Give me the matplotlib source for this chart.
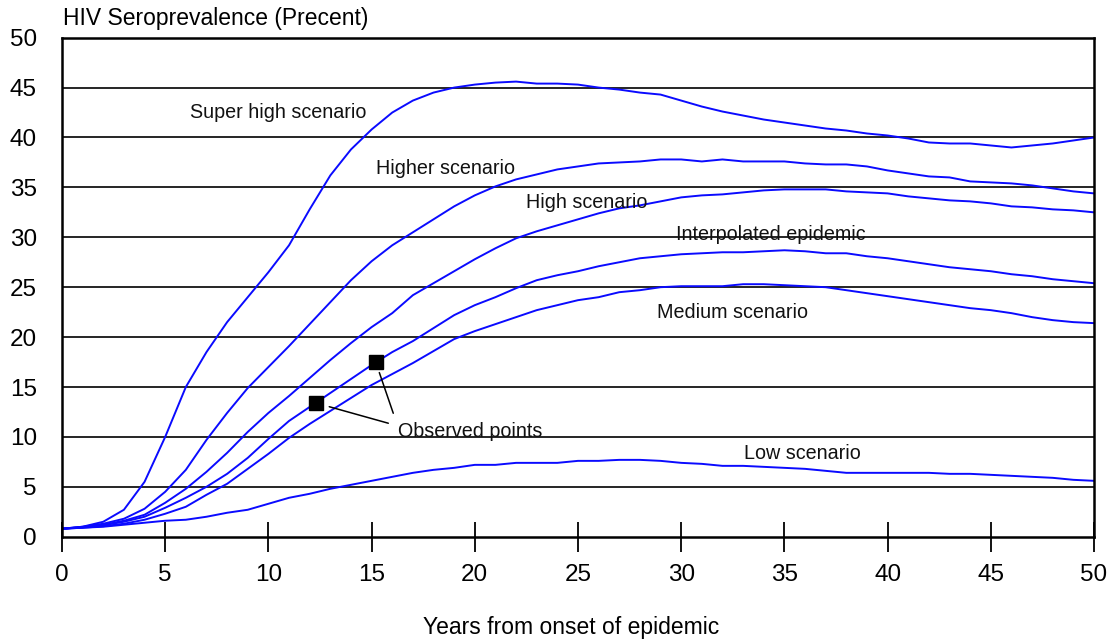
import numpy as np
import matplotlib
matplotlib.use('Agg')
import matplotlib.pyplot as plt

plt.rcParams['font.family'] = ['Liberation Sans', 'DejaVu Sans']

# years from onset, one value per year
years = np.arange(0, 51)

super_high = [0.8, 1.0, 1.5, 2.7, 5.5, 10.0, 15.0, 18.5, 21.5, 24.0, 26.5,
              29.2, 32.8, 36.2, 38.8, 40.8, 42.5, 43.7, 44.5, 45.0, 45.3,
              45.5, 45.6, 45.4, 45.4, 45.3, 45.0, 44.8, 44.5, 44.3, 43.7,
              43.1, 42.6, 42.2, 41.8, 41.5, 41.2, 40.9, 40.7, 40.4, 40.2,
              39.9, 39.5, 39.4, 39.4, 39.2, 39.0, 39.2, 39.4, 39.7, 40.0]
higher = [0.8, 1.0, 1.3, 1.8, 2.8, 4.5, 6.7, 9.7, 12.4, 14.9, 17.0,
          19.1, 21.3, 23.5, 25.7, 27.6, 29.2, 30.5, 31.8, 33.1, 34.2,
          35.1, 35.8, 36.3, 36.8, 37.1, 37.4, 37.5, 37.6, 37.8, 37.8,
          37.6, 37.8, 37.6, 37.6, 37.6, 37.4, 37.3, 37.3, 37.1, 36.7,
          36.4, 36.1, 36.0, 35.6, 35.5, 35.4, 35.2, 34.9, 34.6, 34.4]
high = [0.8, 0.95, 1.2, 1.6, 2.2, 3.4, 4.8, 6.5, 8.4, 10.5, 12.4,
        14.1, 15.9, 17.7, 19.4, 21.0, 22.4, 24.2, 25.4, 26.6, 27.8,
        28.9, 29.9, 30.6, 31.2, 31.8, 32.4, 32.9, 33.2, 33.6, 34.0,
        34.2, 34.3, 34.5, 34.7, 34.8, 34.8, 34.8, 34.6, 34.5, 34.4,
        34.1, 33.9, 33.7, 33.6, 33.4, 33.1, 33.0, 32.8, 32.7, 32.5]
interpolated = [0.8, 0.95, 1.15, 1.5, 2.0, 2.9, 3.9, 5.0, 6.3, 7.9, 9.8,
                11.6, 13.0, 14.4, 15.8, 17.2, 18.5, 19.6, 20.9, 22.2, 23.2,
                24.0, 24.9, 25.7, 26.2, 26.6, 27.1, 27.5, 27.9, 28.1, 28.3,
                28.4, 28.5, 28.5, 28.6, 28.7, 28.6, 28.4, 28.4, 28.1, 27.9,
                27.6, 27.3, 27.0, 26.8, 26.6, 26.3, 26.1, 25.8, 25.6, 25.4]
medium = [0.8, 0.9, 1.05, 1.3, 1.7, 2.3, 3.0, 4.2, 5.3, 6.8, 8.3,
          9.9, 11.3, 12.6, 13.9, 15.2, 16.3, 17.4, 18.6, 19.8, 20.6,
          21.3, 22.0, 22.7, 23.2, 23.7, 24.0, 24.5, 24.7, 25.0, 25.1,
          25.1, 25.1, 25.3, 25.3, 25.2, 25.1, 25.0, 24.7, 24.4, 24.1,
          23.8, 23.5, 23.2, 22.9, 22.7, 22.4, 22.0, 21.7, 21.5, 21.4]
low = [0.8, 0.9, 1.0, 1.2, 1.4, 1.6, 1.7, 2.0, 2.4, 2.7, 3.3,
       3.9, 4.3, 4.8, 5.2, 5.6, 6.0, 6.4, 6.7, 6.9, 7.2,
       7.2, 7.4, 7.4, 7.4, 7.6, 7.6, 7.7, 7.7, 7.6, 7.4,
       7.3, 7.1, 7.1, 7.0, 6.9, 6.8, 6.6, 6.4, 6.4, 6.4,
       6.4, 6.4, 6.3, 6.3, 6.2, 6.1, 6.0, 5.9, 5.7, 5.6]

obs_years = [12.3, 15.2]
obs_values = [13.4, 17.5]

# label text and where it sits (year, value at baseline)
labels = ['Super high scenario', 'Higher scenario', 'High scenario',
          'Interpolated epidemic', 'Medium scenario', 'Low scenario',
          'Observed points']
label_x = [6.2, 15.2, 22.5, 29.75, 28.85, 33.05, 16.3]
label_y = [42.0, 36.35, 32.9, 29.75, 21.9, 7.75, 9.95]
# far ends of the leader lines for the observed points
leader_x = [15.81, 16.05]
leader_y = [11.37, 12.37]

x_ticks = np.arange(0, 51, 5)
y_ticks = np.arange(0, 51, 5)


def main():
    fig = plt.figure(figsize=(11.11, 6.42), dpi=100)
    ax = fig.add_axes([0.0558, 0.164, 0.9289, 0.7773])

    for yv in y_ticks[1:-1]:
        ax.axhline(yv, color='black', lw=1.2, zorder=1)

    for series in [super_high, higher, high, interpolated, medium, low]:
        ax.plot(years, series, color='#0a0aff', lw=1.4, zorder=2)

    ax.plot(obs_years, obs_values, 's', color='black', ms=9.5, zorder=4)

    shrink = [10, 8]
    for i in range(2):
        ax.annotate('', xy=(obs_years[i], obs_values[i]),
                    xytext=(leader_x[i], leader_y[i]),
                    arrowprops=dict(arrowstyle='-', color='black', lw=1.1,
                                    shrinkA=0, shrinkB=shrink[i]))

    for txt, lx, ly in zip(labels, label_x, label_y):
        ax.text(lx, ly, txt, fontsize=14.2, ha='left', va='baseline',
                color='#111111', zorder=3)

    ax.set_xlim(0, 50)
    ax.set_ylim(0, 50)
    ax.set_xticks(x_ticks)
    ax.set_yticks(y_ticks)
    ax.tick_params(axis='x', direction='inout', length=21, width=1.3,
                   labelsize=17.5, pad=9)
    ax.tick_params(axis='y', length=0, labelsize=17.5, pad=18)
    for s in ax.spines.values():
        s.set_linewidth(1.8)

    fig.text(0.0565, 0.961, 'HIV Seroprevalence (Precent)', fontsize=16.5,
             ha='left', va='baseline')
    fig.text(0.514, 0.012, 'Years from onset of epidemic', fontsize=16.5,
             ha='center', va='baseline')

    plt.savefig('out.png', dpi=100)


if __name__ == "__main__":
    main()
